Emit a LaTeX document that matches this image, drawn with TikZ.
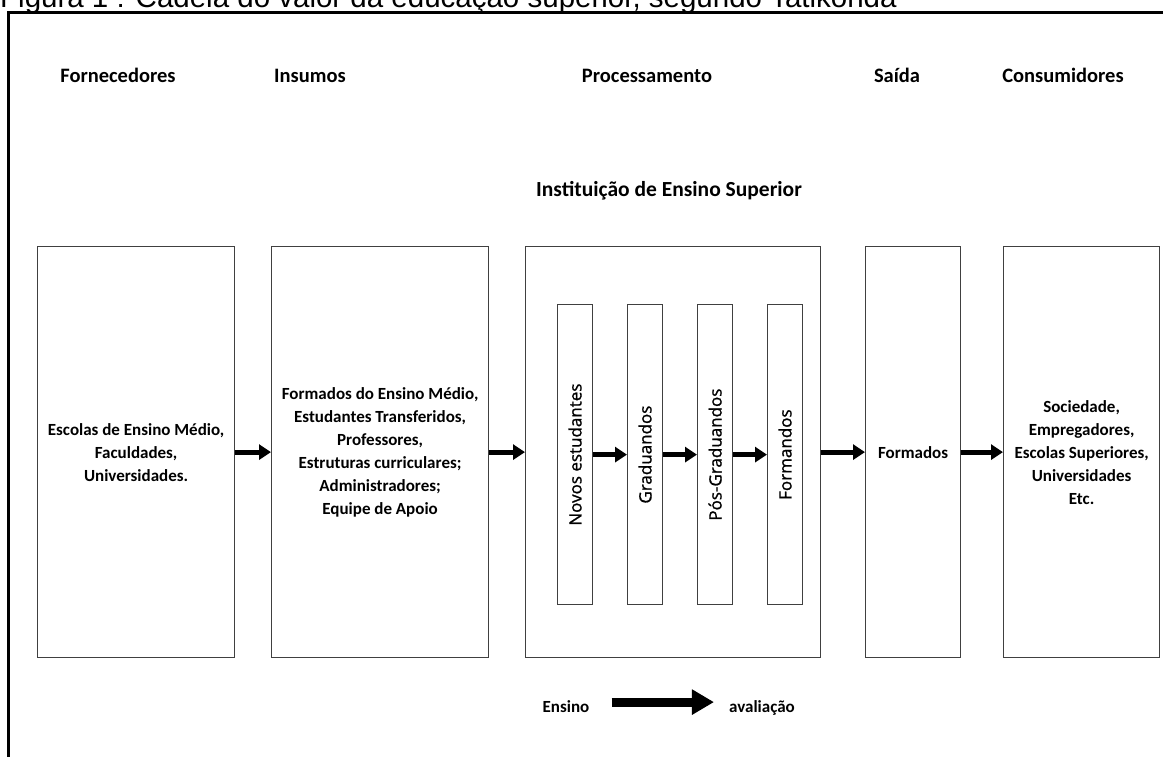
\documentclass[tikz,border=0pt]{standalone}
\usepackage{fontspec}
\usepackage{graphicx}
\setmainfont{Carlito}
\newfontfamily\arialfont{Liberation Sans}
\newfontfamily\osfont[FakeBold=1]{Open Sans}
\usetikzlibrary{arrows.meta}
\tikzset{
  bigbox/.style={draw=black!75, line width=1.2pt, anchor=north west, minimum height=411pt, inner sep=0pt, align=center,
    font=\bfseries\fontsize{17}{23}\selectfont},
  smallbox/.style={draw=black!75, line width=1.2pt, anchor=north west, minimum height=300pt, minimum width=35pt, inner sep=0pt,
    font=\osfont\fontsize{17}{18}\selectfont},
  header/.style={font=\bfseries\fontsize{20.5}{22}\selectfont, inner sep=0pt, anchor=base},
  arr/.style={line width=5pt, -{Triangle[length=12pt,width=15pt]}},
  bigarr/.style={line width=9pt, -{Triangle[length=22pt,width=24pt]}},
}
\begin{document}
\begin{tikzpicture}[x=1pt,y=-1pt]
\useasboundingbox (0,0) rectangle (1163,756);
\clip (0,0) rectangle (1163,756);
\fill[white] (0,0) rectangle (1163,756);
% title (cut off at the top)
\node[anchor=base west, inner sep=0pt, font=\arialfont\fontsize{29.5}{30}\selectfont] (title) at (0,7)
  {Figura 1 : Cadeia do valor da educação superior, segundo Tatikonda};
% frame
\draw[line width=3pt] (8,800) -- (8,12) -- (1200,12);
% headers
\node[header] (h1) at (118,82) {Fornecedores};
\node[header] (h2) at (310,82) {Insumos};
\node[header] (h3) at (647,82) {Processamento};
\node[header] (h4) at (897,82) {Saída};
\node[header] (h5) at (1063,82) {Consumidores};
\node[header, font=\bfseries\fontsize{21.5}{24}\selectfont] (ies) at (669,196) {Instituição de Ensino Superior};
% boxes
\node[bigbox, minimum width=197pt] (b1) at (37,246) {Escolas de Ensino Médio,\\Faculdades,\\Universidades.};
\node[bigbox, minimum width=217pt] (b2) at (271,246) {Formados do Ensino Médio,\\Estudantes Transferidos,\\Professores,\\Estruturas curriculares;\\Administradores;\\Equipe de Apoio};
\node[bigbox, minimum width=295pt] (b3) at (525,246) {};
\node[bigbox, minimum width=95pt] (b4) at (865,246) {Formados};
\node[bigbox, minimum width=156pt] (b5) at (1003,246) {Sociedade,\\Empregadores,\\Escolas Superiores,\\Universidades\\Etc.};
% inner boxes
\node[smallbox] (n1) at (557,304) {\rotatebox{90}{Novos estudantes}};
\node[smallbox] (n2) at (627,304) {\rotatebox{90}{Graduandos}};
\node[smallbox] (n3) at (697,304) {\rotatebox{90}{Pós-Graduandos}};
\node[smallbox] (n4) at (767,304) {\rotatebox{90}{Formandos}};
% arrows
\draw[arr] (b1) -- (b2);
\draw[arr] (b2) -- (b3);
\draw[arr] (b3) -- (b4);
\draw[arr] (b4) -- (b5);
\draw[arr] (n1) -- (n2);
\draw[arr] (n2) -- (n3);
\draw[arr] (n3) -- (n4);
% legend
\node[anchor=base, inner sep=0pt, font=\bfseries\fontsize{17}{20}\selectfont] (ens) at (566,712) {Ensino};
\node[anchor=base, inner sep=0pt, font=\bfseries\fontsize{17}{20}\selectfont] (ava) at (762,712) {avaliação};
\draw[bigarr] ([shift={(22,-4)}]ens.east) -- ([shift={(-15,-4)}]ens.east -| ava.west);
\end{tikzpicture}
\end{document}
